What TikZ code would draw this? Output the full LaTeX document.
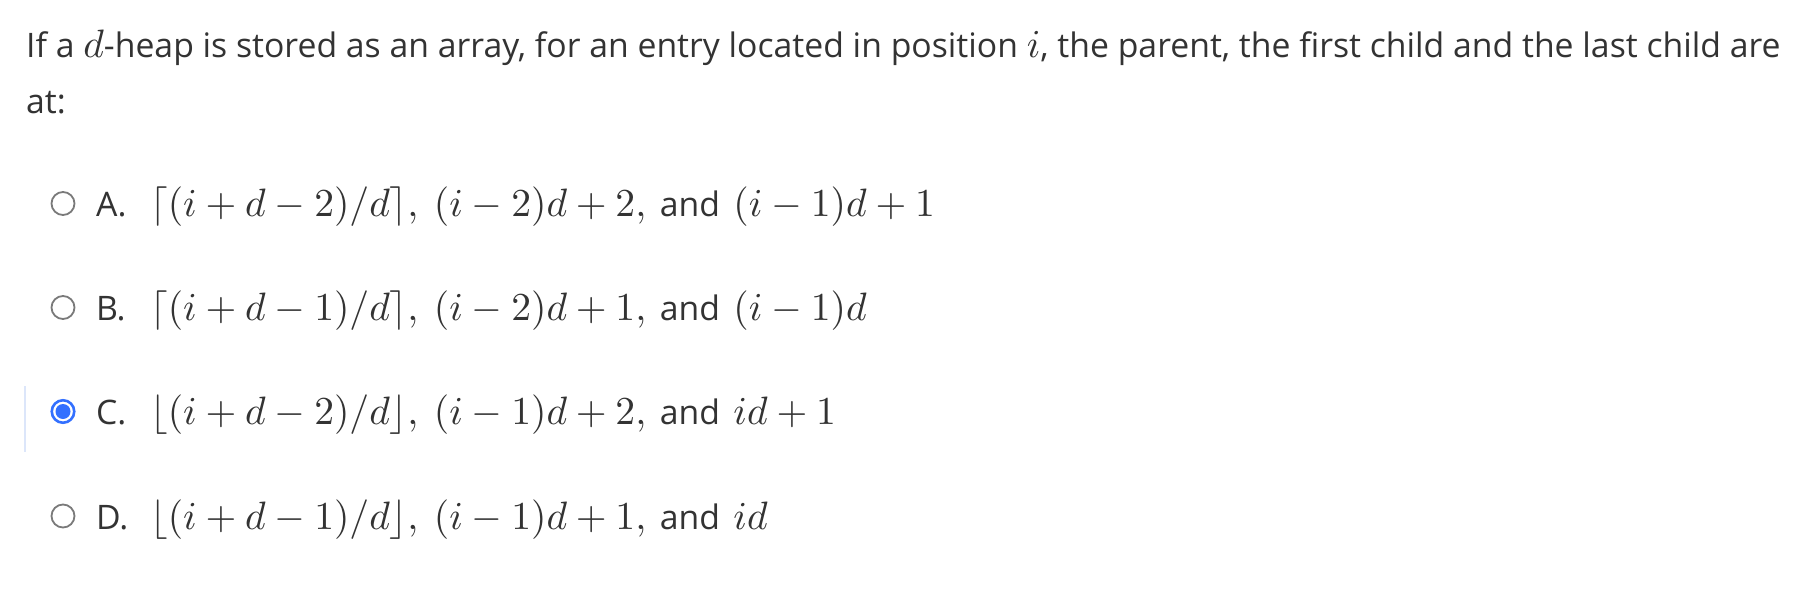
\documentclass[tikz,border=0pt]{standalone}
\usepackage{fontspec}
\setmainfont{Open Sans}
\definecolor{ink}{HTML}{333333}
\definecolor{ringgray}{HTML}{7A7A7A}
\definecolor{pickblue}{HTML}{3370FF}
\definecolor{barblue}{HTML}{DCE6FA}
\newcommand\optmath[1]{\scalebox{3.96}{\fontsize{10}{12}\selectfont$#1$}}
\newcommand\andword{\hskip0.4em and\hskip0.4em}
\begin{document}
\begin{tikzpicture}[x=1pt,y=-1pt,
	txt/.style={anchor=base west,inner sep=0pt,text=ink,font=\fontsize{33.75}{40}\selectfont},
	radio/.style={circle,draw=ringgray,line width=1.8pt,minimum size=23pt,inner sep=0pt},
	picked/.style={circle,draw=pickblue,line width=2.6pt,minimum size=22.5pt,inner sep=0pt}]
	\useasboundingbox[fill=white] (0,0) rectangle (1796,594);
	% question
	\node[txt] (q1) at (26,57.7) {If a \optmath{d}-heap is stored as an array, for an entry located in position \optmath{i}, the parent, the first child and the last child are};
	\node[txt] (q2) at (26,113) {at:};
	% option bar
	\draw[barblue,line width=1.5pt] (25,386) -- (25,452);
	% radios
	\node[radio] (ra) at (63,203.5) {};
	\node[radio] (rb) at (63,307.5) {};
	\node[picked] (rc) at (63,411.5) {};
	\fill[pickblue] (rc.center) circle (7.5);
	\node[radio] (rd) at (63,516) {};
	% options
	\node[txt] (la) at (96,216) {A.};
	\node[txt] (ma) at (150,216) {\optmath{\lceil(i+d-2)/d\rceil,\mskip4mu(i-2)d+2,}\andword\optmath{(i-1)d+1}};
	\node[txt] (lb) at (96,320) {B.};
	\node[txt] (mb) at (150,320) {\optmath{\lceil(i+d-1)/d\rceil,\mskip4mu(i-2)d+1,}\andword\optmath{(i-1)d}};
	\node[txt] (lc) at (96,424) {C.};
	\node[txt] (mc) at (150,424) {\optmath{\lfloor(i+d-2)/d\rfloor,\mskip4mu(i-1)d+2,}\andword\optmath{id+1}};
	\node[txt] (ld) at (96,529) {D.};
	\node[txt] (md) at (150,529) {\optmath{\lfloor(i+d-1)/d\rfloor,\mskip4mu(i-1)d+1,}\andword\optmath{id}};
\end{tikzpicture}
\end{document}
